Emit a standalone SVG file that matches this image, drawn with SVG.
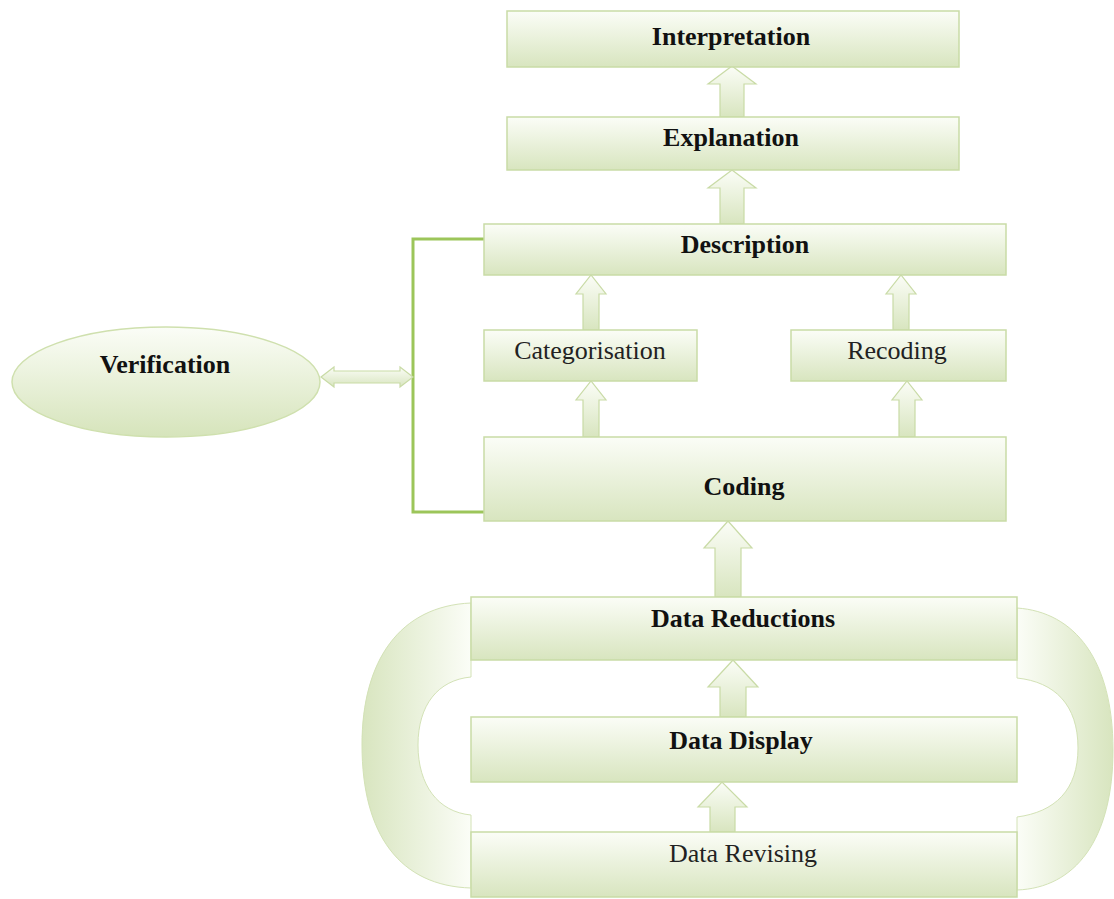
<svg xmlns="http://www.w3.org/2000/svg" width="1114" height="899" viewBox="0 0 1114 899">
<defs>
<linearGradient id="gv" x1="0" y1="0" x2="0" y2="1">
<stop offset="0" stop-color="#fbfdf7"/>
<stop offset="1" stop-color="#d8e5bf"/>
</linearGradient>
<linearGradient id="gl" x1="1" y1="0" x2="0" y2="0">
<stop offset="0" stop-color="#fbfdf7"/>
<stop offset="1" stop-color="#d8e5bf"/>
</linearGradient>
<linearGradient id="gr" x1="0" y1="0" x2="1" y2="0">
<stop offset="0" stop-color="#fbfdf7"/>
<stop offset="1" stop-color="#d8e5bf"/>
</linearGradient>
<linearGradient id="ge" x1="0" y1="0" x2="0" y2="1">
<stop offset="0" stop-color="#fbfdf7"/>
<stop offset="1" stop-color="#d6e4bb"/>
</linearGradient>
</defs>
<style>
.box{fill:url(#gv);stroke:#c9dba6;stroke-width:1.5}
.arr{fill:url(#gv);stroke:#c9dba6;stroke-width:1.2}
.t{font-family:"Liberation Serif","DejaVu Serif",serif;font-size:26px;fill:#111;text-anchor:middle}
.b{font-weight:bold}
.n{fill:#222}
.br{fill:none;stroke:#9cc55a;stroke-width:3}
</style>

<g id="loops">
<path d="M471,603 C400,606 362,660 362,745 C362,835 400,886 471,888 L471,815 C438,812 418,785 418,745 C418,705 438,680 471,677 Z" fill="url(#gl)" stroke="#d3e2b6" stroke-width="1"/>
<path d="M1017,608 C1075,612 1113,660 1113,750 C1113,840 1075,888 1017,890 L1017,817 C1055,812 1078,790 1078,748 C1078,705 1055,682 1017,678 Z" fill="url(#gr)" stroke="#d3e2b6" stroke-width="1"/>
</g>

<g id="connectors">
<polygon class="arr" points="720,117 720,84 708,84 732,66 756,84 744,84 744,117"/>
<polygon class="arr" points="720,224 720,188 708,188 732,170 756,188 744,188 744,224"/>
<polygon class="arr" points="583,330 583,294 576,294 591,275 606,294 599,294 599,330"/>
<polygon class="arr" points="893,330 893,294 886,294 901,275 916,294 909,294 909,330"/>
<polygon class="arr" points="583,437 583,400 576,400 591,381 606,400 599,400 599,437"/>
<polygon class="arr" points="899,437 899,400 892,400 907,381 922,400 915,400 915,437"/>
<polygon class="arr" points="715,597 715,548 704,548 728,521 752,548 741,548 741,597"/>
<polygon class="arr" points="720,717 720,687 708,687 733,660 758,687 746,687 746,717"/>
<polygon class="arr" points="710,832 710,807 698,807 722,782 747,807 735,807 735,832"/>
<polyline class="br" points="484,239 413,239 413,512 484,512"/>
<polygon class="arr" points="321,377 334,367 334,371 400,371 400,367 413,377 400,387 400,383 334,383 334,387"/>
</g>

<g id="n-interpretation">
<rect class="box" x="507" y="11" width="452" height="56"/>
<text class="t b" x="731" y="45">Interpretation</text>
</g>
<g id="n-explanation">
<rect class="box" x="507" y="117" width="452" height="53"/>
<text class="t b" x="731" y="146">Explanation</text>
</g>
<g id="n-description">
<rect class="box" x="484" y="224" width="522" height="51"/>
<text class="t b" x="745" y="253">Description</text>
</g>
<g id="n-categorisation">
<rect class="box" x="484" y="330" width="213" height="51"/>
<text class="t n" x="590" y="359">Categorisation</text>
</g>
<g id="n-recoding">
<rect class="box" x="791" y="330" width="215" height="51"/>
<text class="t n" x="897" y="359">Recoding</text>
</g>
<g id="n-coding">
<rect class="box" x="484" y="437" width="522" height="84"/>
<text class="t b" x="744" y="495">Coding</text>
</g>
<g id="n-verification">
<ellipse cx="166" cy="382" rx="154" ry="55" fill="url(#ge)" stroke="#cfe0ae" stroke-width="1.5"/>
<text class="t b" x="165" y="373">Verification</text>
</g>
<g id="n-data-reductions">
<rect class="box" x="471" y="597" width="546" height="63"/>
<text class="t b" x="743" y="627">Data Reductions</text>
</g>
<g id="n-data-display">
<rect class="box" x="471" y="717" width="546" height="65"/>
<text class="t b" x="741" y="749">Data Display</text>
</g>
<g id="n-data-revising">
<rect class="box" x="471" y="832" width="546" height="65"/>
<text class="t n" x="743" y="862">Data Revising</text>
</g>
</svg>
